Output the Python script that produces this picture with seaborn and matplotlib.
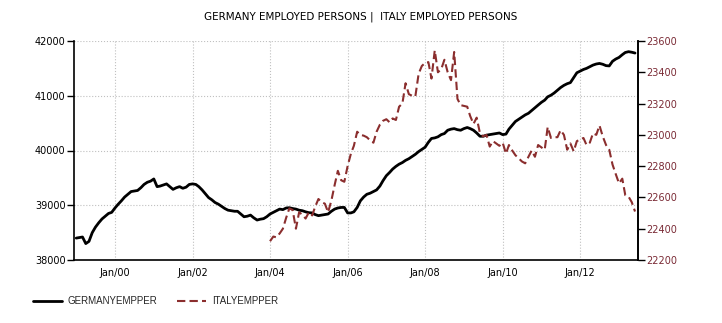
import matplotlib
matplotlib.use("Agg")
import matplotlib.pyplot as plt
import matplotlib.dates as mdates
from matplotlib.lines import Line2D
import seaborn as sns
import pandas as pd
import numpy as np

germany_start = "1999-01-01"
germany = [
    38400, 38410, 38420, 38300, 38340, 38500, 38600, 38680, 38750, 38800, 38850, 38870,
    38950, 39020, 39080, 39150, 39200, 39250, 39260, 39270, 39320, 39380, 39420, 39440,
    39480, 39340, 39350, 39370, 39390, 39340, 39290, 39320, 39340, 39310, 39330, 39380,
    39390, 39380, 39340, 39280, 39210, 39140, 39100, 39050, 39020, 38980, 38940, 38910,
    38900, 38890, 38890, 38840, 38790, 38800, 38820, 38770, 38730, 38745, 38755, 38790,
    38840, 38870, 38900, 38930, 38920, 38950, 38955, 38940, 38930, 38910, 38900, 38880,
    38864, 38860, 38830, 38810, 38820, 38830, 38840, 38890, 38930, 38950, 38960, 38960,
    38860, 38860, 38880, 38960, 39080, 39150, 39200, 39220, 39250, 39280, 39350, 39450,
    39540, 39600, 39660, 39710, 39750, 39780, 39820, 39850, 39890, 39930, 39980, 40020,
    40060, 40150, 40220, 40230, 40250, 40290, 40310, 40370, 40390, 40400, 40380, 40370,
    40400, 40420, 40400, 40370, 40320, 40260, 40260, 40280, 40290, 40300, 40310, 40320,
    40290, 40300, 40390, 40460, 40530, 40570, 40610, 40650, 40680, 40730, 40780, 40830,
    40880, 40920, 40980, 41010, 41050, 41100, 41150, 41190, 41220, 41240, 41330, 41420,
    41450, 41480, 41500, 41530, 41560, 41580, 41590, 41575, 41550, 41545, 41630, 41670,
    41700, 41750, 41790, 41805, 41795, 41780,
]

italy_start = "2004-01-01"
italy = [
    22320, 22350, 22345, 22370, 22400, 22470, 22530, 22520, 22400, 22505, 22490, 22465,
    22505, 22485, 22540, 22590, 22570, 22560, 22505, 22580, 22680, 22770, 22710, 22700,
    22800, 22880, 22930, 23020, 23000, 22995, 22985, 22965, 22950, 23020, 23065, 23090,
    23100, 23080, 23105, 23095, 23180, 23200, 23330, 23260, 23250, 23245, 23390, 23440,
    23460, 23465, 23360, 23540, 23400, 23420, 23480, 23400, 23350, 23530, 23230, 23190,
    23185, 23180, 23120, 23070, 23110, 23010, 22990, 23000, 22925, 22960, 22945, 22930,
    22950, 22880, 22935, 22900, 22870, 22850, 22830, 22818, 22860, 22900, 22860, 22935,
    22920, 22905, 23050, 22980, 22985, 22985, 23030, 23000, 22905, 22945, 22895, 22960,
    22970, 22980, 22935, 22950, 23010, 23000, 23060, 22990, 22935, 22905, 22810, 22750,
    22690, 22720, 22615, 22605, 22570, 22510,
]

left_ticks = [38000, 39000, 40000, 41000, 42000]
right_ticks = [22200, 22400, 22600, 22800, 23000, 23200, 23400, 23600]
title = "GERMANY EMPLOYED PERSONS |  ITALY EMPLOYED PERSONS"
labels = ["GERMANYEMPPER", "ITALYEMPPER"]

RED = "#8b2e2e"
RED_TXT = "#7a2a35"

gdf = pd.DataFrame({"date": pd.date_range(germany_start, periods=len(germany), freq="MS"),
                    "value": germany})
idf = pd.DataFrame({"date": pd.date_range(italy_start, periods=len(italy), freq="MS"),
                    "value": italy})

sns.set_style("white")
plt.rcParams["font.family"] = ["DejaVu Sans"]

fig = plt.figure(figsize=(7.22, 3.23), dpi=100)
ax = fig.add_axes([74/722, 1-260/323, (638-74)/722, (260-41)/323])
ax2 = ax.twinx()

sns.lineplot(data=gdf, x="date", y="value", ax=ax, color="black", lw=2.0, zorder=3)
sns.lineplot(data=idf, x="date", y="value", ax=ax2, color=RED, lw=1.5,
             dashes=False, zorder=3)
ax2.lines[0].set_dashes([4.0, 2.0])

ax.set_xlim(pd.Timestamp("1998-12-11"), pd.Timestamp("2013-06-29"))
ax.set_ylim(38000, 42000)
ax2.set_ylim(22200, 23600)
ax.set_yticks(left_ticks)
ax2.set_yticks(right_ticks)
ax.set_xlabel("")
ax.set_ylabel("")
ax2.set_xlabel("")
ax2.set_ylabel("")

ax.xaxis.set_major_locator(mdates.YearLocator(2, month=1, day=1))
ax.xaxis.set_major_formatter(mdates.DateFormatter("%b/%y"))

ax.grid(True, color="#c0c0c0", linestyle=":", linewidth=0.8)
ax2.grid(False)
ax.set_axisbelow(True)

ax.spines["top"].set_visible(False)
ax2.spines["top"].set_visible(False)
ax2.spines["bottom"].set_visible(False)
ax2.spines["left"].set_visible(False)
for a in (ax, ax2):
    for sp in a.spines.values():
        sp.set_color("black")
        sp.set_linewidth(1.2)

ax.tick_params(axis="y", direction="out", length=5, width=1, colors="black",
               labelsize=7, pad=1)
ax.tick_params(axis="x", length=0, labelsize=7, pad=6, colors="black")
ax2.tick_params(axis="y", direction="out", length=5, width=1, color="black",
                labelcolor=RED_TXT, labelsize=7, pad=1)

fig.text(0.5, 1-17/323, title, ha="center", va="center", fontsize=7.5, color="black")

handles = [Line2D([], [], color="black", lw=2),
           Line2D([], [], color=RED, lw=1.5, dashes=[4.0, 2.0])]
fig.legend(handles, labels, loc="center left", bbox_to_anchor=(24/722, 1-301/323),
           ncol=2, frameon=False, prop={"family": "Liberation Sans", "size": 7},
           handlelength=3.0, handletextpad=0.6, columnspacing=2.0)

fig.savefig("out.png", dpi=100)
